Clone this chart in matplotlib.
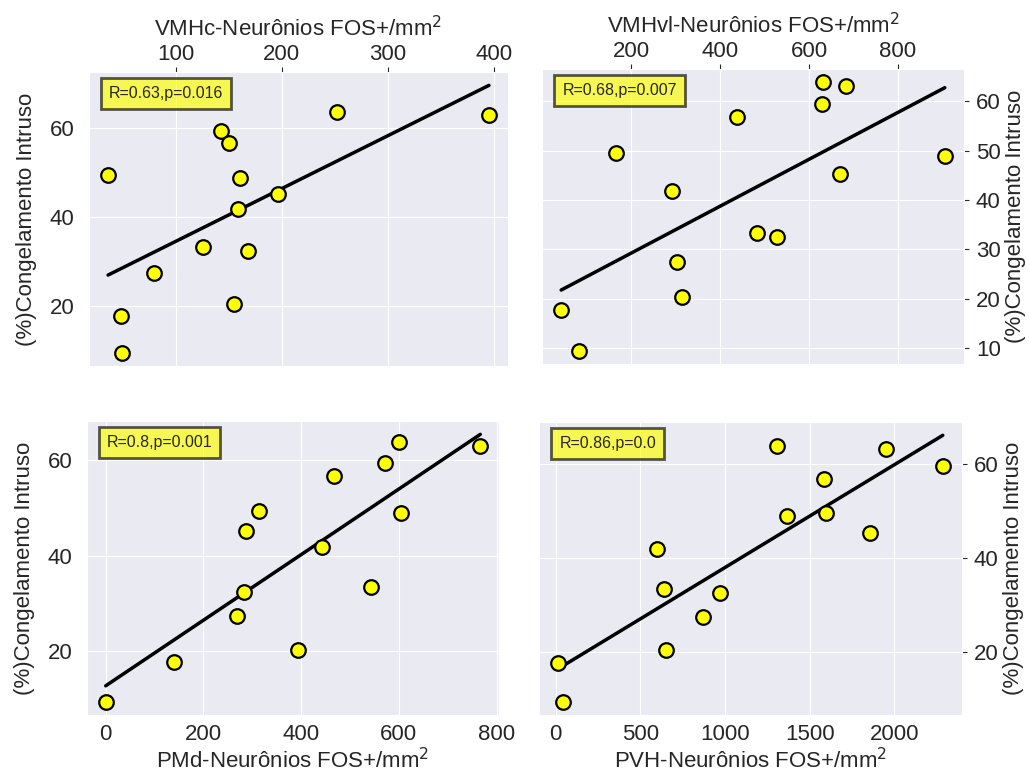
import numpy as np
import matplotlib
matplotlib.use('Agg')
import matplotlib.pyplot as plt
import seaborn as sns

# freezing (%) per animal, shared by all four panels
freezing = [49.5, 17.7, 9.5, 27.4, 33.4, 59.4, 56.8, 48.9, 41.8, 20.4, 32.5, 45.2, 63.8, 63.1]

# FOS+ neurons/mm2 per region, same animal order as freezing
vmhc = [36.5, 48.4, 50, 79.9, 126.1, 142.7, 150.6, 160.7, 158.5, 155.4, 168, 196.9, 251.9, 395]
vmhvl = [166.3, 42.5, 82.3, 302.8, 482.8, 630.4, 439, 905.7, 292.2, 314, 527.8, 670.9, 632.6, 683.7]
pmd = [313.2, 140, 0, 269.5, 543.8, 571.7, 466.4, 603.6, 442, 393.9, 282.4, 287.1, 600.8, 766.5]
pvh = [1597.6, 16, 41.4, 868, 643, 2286, 1582, 1365, 599.5, 655, 970, 1858, 1309.5, 1951]

regions = ['VMHc', 'VMHvl', 'PMd', 'PVH']
stats = ['R=0.63,p=0.016', 'R=0.68,p=0.007', 'R=0.8,p=0.001', 'R=0.86,p=0.0']
vmhvl_ticks = [200, 400, 600, 800]

sns.set_style('darkgrid')
plt.rcParams['font.family'] = ['Liberation Sans', 'DejaVu Sans']
plt.rcParams['text.color'] = '#262626'
plt.rcParams['axes.labelcolor'] = '#262626'
plt.rcParams['xtick.color'] = '#262626'
plt.rcParams['ytick.color'] = '#262626'

W, H = 1029, 778
fig = plt.figure(figsize=(W / 100, H / 100), dpi=100)


def box(l, r, t, b):
    return [l / W, 1 - b / H, (r - l) / W, (b - t) / H]


positions = [box(89, 508, 72, 366), box(542, 964, 69, 364),
             box(87, 499, 421, 715), box(539, 962, 422, 715)]
xdata = [vmhc, vmhvl, pmd, pvh]

for i, (pos, xs, region, stat) in enumerate(zip(positions, xdata, regions, stats)):
    ax = fig.add_axes(pos)
    x = np.array(xs)
    y = np.array(freezing)
    slope, icpt = np.polyfit(x, y, 1)
    xl = np.array([x.min(), x.max()])
    ax.plot(xl, slope * xl + icpt, color='black', lw=2.5, zorder=2)
    ax.scatter(x, y, s=110, facecolor='yellow', edgecolor='black',
               linewidth=1.6, zorder=3)
    ax.text(0.048, 0.952, stat, transform=ax.transAxes, fontsize=11.5,
            ha='left', va='top',
            bbox=dict(boxstyle='square,pad=0.5', facecolor='yellow',
                      edgecolor='black', alpha=0.65, linewidth=2))
    top = i < 2
    ax.tick_params(axis='x', labelsize=16, pad=1.5 if top else 3)
    ax.tick_params(axis='y', labelsize=16, pad=7 if i % 2 == 0 else 5)
    label = region + '-Neurônios FOS+/mm$^2$'
    ax.set_xlabel(label, fontsize=16, labelpad=6 if top else 2)
    ax.set_ylabel('(%)Congelamento Intruso', fontsize=16,
                  labelpad=9 if i % 2 == 0 else 3)
    if i == 1:
        ax.set_xticks(vmhvl_ticks)
    if top:
        ax.xaxis.tick_top()
        ax.xaxis.set_label_position('top')
    if i % 2 == 1:
        ax.yaxis.tick_right()
        ax.yaxis.set_label_position('right')

fig.savefig('out.png', dpi=100)
